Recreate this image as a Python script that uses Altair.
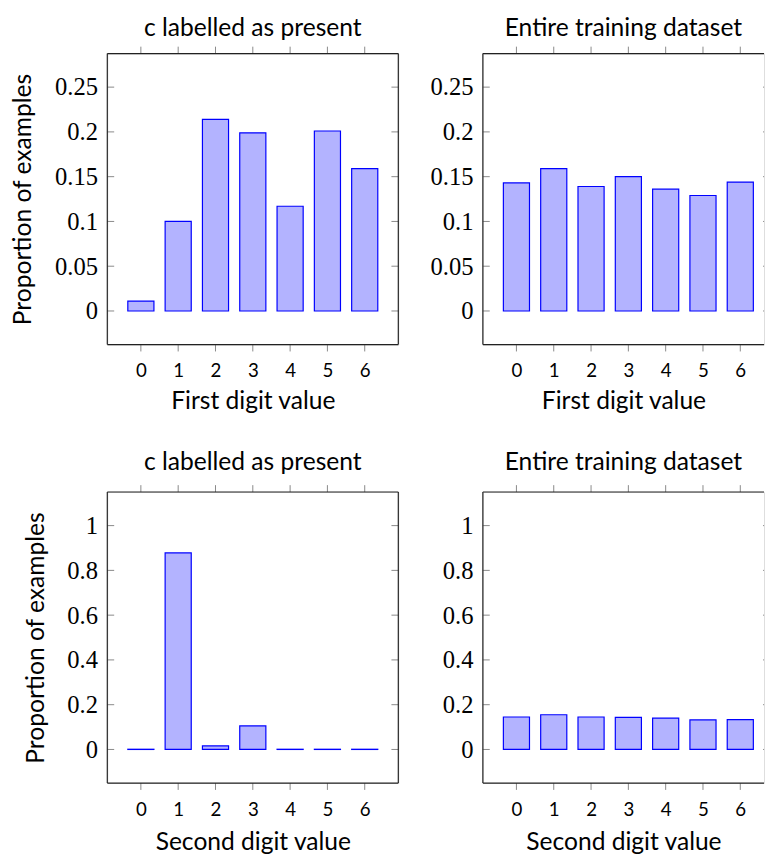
import altair as alt
import pandas as pd

digits = [0, 1, 2, 3, 4, 5, 6]
first_present = [0.011, 0.100, 0.214, 0.199, 0.117, 0.201, 0.159]
first_all = [0.143, 0.159, 0.139, 0.150, 0.136, 0.129, 0.144]
second_present = [0.001, 0.878, 0.016, 0.105, 0.001, 0.001, 0.001]
second_all = [0.145, 0.155, 0.145, 0.143, 0.140, 0.132, 0.133]

titles = ["c labelled as present", "Entire training dataset"]
xtitles = ["First digit value", "Second digit value"]
ytitle = "Proportion of examples"
yticks_top = [0, 0.05, 0.1, 0.15, 0.2, 0.25]
yticks_bottom = [0, 0.2, 0.4, 0.6, 0.8, 1]

BLUE = "#0000ff"
FILL = "#b3b3ff"
TICK = "#888888"
FRAME = "#222222"
SANS = "Lato"
SERIF = "Liberation Serif"
H = 296
TL = 7


def panel(values, ydom, yticks, w, xmax, title, xtitle, show_ytitle, right_border,
          toff, lpad, tpad):
    df = pd.DataFrame({"digit": digits, "value": values})
    xscale = alt.Scale(domain=[-0.9, xmax], nice=False, zero=False)
    yscale = alt.Scale(domain=ydom, nice=False, zero=False)
    xaxis = alt.Axis(values=digits, format="d", title=xtitle, ticks=False, domain=False,
                     grid=False, labelFont=SANS, labelFontSize=19, labelColor="black",
                     labelPadding=lpad, titleFont=SANS, titleFontSize=25,
                     titleFontWeight="normal", titleColor="black", titlePadding=tpad)
    yaxis = alt.Axis(values=yticks, format="~g", title=ytitle if show_ytitle else None,
                     ticks=False, domain=False, grid=False, labelFont=SERIF,
                     labelFontSize=25, labelColor="black", labelPadding=10,
                     titleFont=SANS, titleFontSize=25, titleFontWeight="normal",
                     titleColor="black", titlePadding=19)
    X = alt.X("x0:Q", scale=xscale, axis=xaxis)
    Y = alt.Y("value:Q", scale=yscale, axis=yaxis)

    bars = alt.Chart(df).transform_calculate(
        x0="datum.digit - 0.35", x1="datum.digit + 0.35"
    ).mark_bar(fill=FILL, stroke=BLUE, strokeWidth=1.2).encode(
        x=X, x2="x1:Q", y=Y, y2=alt.datum(0)
    )
    ydf = pd.DataFrame({"value": yticks})
    xdf = pd.DataFrame({"x0": digits})
    one = pd.DataFrame({"a": [0]})
    layers = [bars]
    layers.append(alt.Chart(ydf).mark_rule(color=TICK, strokeWidth=1).encode(
        y=Y, x=alt.value(0), x2=alt.value(TL)))
    if right_border:
        layers.append(alt.Chart(ydf).mark_rule(color=TICK, strokeWidth=1).encode(
            y=Y, x=alt.value(w - TL), x2=alt.value(w)))
    else:
        layers.append(alt.Chart(ydf).mark_rule(color=TICK, strokeWidth=1).encode(
            y=Y, x=alt.value(w - 1), x2=alt.value(w)))
    layers.append(alt.Chart(xdf).mark_rule(color=TICK, strokeWidth=1).encode(
        x=X, y=alt.value(-TL), y2=alt.value(0)))
    layers.append(alt.Chart(xdf).mark_rule(color=TICK, strokeWidth=1).encode(
        x=X, y=alt.value(H), y2=alt.value(H + TL)))
    frame = alt.Chart(one).mark_rule(color=FRAME, strokeWidth=1.2)
    layers.append(frame.encode(x=alt.value(0), y=alt.value(0), y2=alt.value(H)))
    layers.append(frame.encode(x=alt.value(0), x2=alt.value(w), y=alt.value(0)))
    layers.append(frame.encode(x=alt.value(0), x2=alt.value(w), y=alt.value(H)))
    if right_border:
        layers.append(frame.encode(x=alt.value(w), y=alt.value(0), y2=alt.value(H)))
    return alt.layer(*layers).properties(
        width=w, height=H,
        title=alt.Title(title, font=SANS, fontSize=25, fontWeight="normal",
                        color="black", offset=toff),
    )


WR = 286
XR = -0.9 + 7.8 * WR / 296
top_dom = [-0.0375, 0.2875]
bot_dom = [-0.15, 1.15]

tl = panel(first_present, top_dom, yticks_top, 296, 6.9, titles[0], xtitles[0], True, True, 5.5, 17, 9)
tr = panel(first_all, top_dom, yticks_top, WR, XR, titles[1], xtitles[0], False, False, 5.5, 17, 9)
bl = panel(second_present, bot_dom, yticks_bottom, 296, 6.9, titles[0], xtitles[1], True, True, 10, 18, 11)
br = panel(second_all, bot_dom, yticks_bottom, WR, XR, titles[1], xtitles[1], False, False, 10, 18, 11)

chart = alt.concat(tl, tr, bl, br, columns=2, spacing={"row": 36, "column": 29}).properties(
    padding={"left": 2, "top": 0, "right": 0, "bottom": 0}
).configure_view(stroke=None).configure(background="white")

chart.save("out.html", embed_options={"renderer": "svg", "actions": False})
